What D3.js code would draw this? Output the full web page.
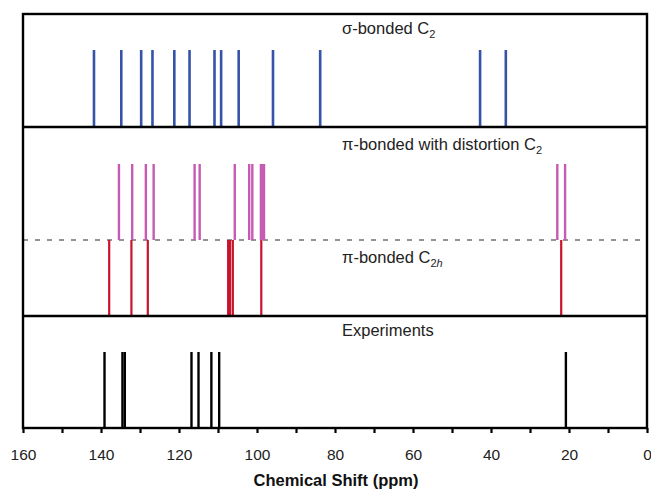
<!DOCTYPE html>
<html>
<head>
<meta charset="utf-8">
<script src="https://cdn.jsdelivr.net/npm/d3@7"></script>
<style>
  body { margin: 0; background: #fff; }
  text { font-family: "Liberation Sans", Arial, sans-serif; }
</style>
</head>
<body>
<div id="chart"></div>
<script>
// Peak positions (ppm).
const sigmaC2 = [141.8, 134.8, 129.7, 126.8, 121.2, 117.3, 110.9, 109.2, 104.7, 95.9, 83.8, 42.8, 36.2];
const piDistortC2 = [135.4, 132.0, 128.5, 126.5, 116.0, 114.7, 105.7, 102.0, 101.2, 99.0, 98.6, 98.2, 23.0, 21.0];
const piC2h = [137.9, 132.2, 128.0, 107.4, 106.9, 106.2, 98.9, 22.0];
const experiments = [139.1, 134.5, 133.9, 116.8, 115.0, 111.7, 109.7, 20.8];
const tickValues = d3.range(0, 161, 10);

const width = 651;
const height = 489;
const margin = { top: 14, right: 4, bottom: 61, left: 23 };

const x = d3.scaleLinear()
  .domain([160, 0])
  .range([margin.left, width - margin.right]);

// Panel rows (y in pixels).
const yTop = 14, ySep1 = 127, yDash = 240, ySep2 = 316, yAxis = 428;

const svg = d3.select("#chart").append("svg")
  .attr("width", width)
  .attr("height", height);

// Series drawn as stick spectra.
const series = [
  { name: "sigma", values: sigmaC2, y0: 50, y1: ySep1, color: "#3553a8", w: 2.6 },
  { name: "pidist", values: piDistortC2, y0: 164, y1: yDash, color: "#c55bb3", w: 2.4 },
  { name: "pic2h", values: piC2h, y0: yDash, y1: ySep2, color: "#c8132b", w: 2.2 },
  { name: "exp", values: experiments, y0: 352, y1: yAxis, color: "#000", w: 2.4 }
];

// Dashed separator in the middle panel.
svg.append("line")
  .attr("x1", x(160)).attr("x2", x(0))
  .attr("y1", yDash).attr("y2", yDash)
  .attr("stroke", "#8f9598")
  .attr("stroke-width", 2)
  .attr("stroke-dasharray", "5,7");

series.forEach((s) => {
  svg.append("g")
    .selectAll("line")
    .data(s.values)
    .join("line")
    .attr("x1", (d) => x(d)).attr("x2", (d) => x(d))
    .attr("y1", s.y0).attr("y2", s.y1)
    .attr("stroke", s.color)
    .attr("stroke-width", s.w);
});

// Frame and panel separators.
svg.append("rect")
  .attr("x", x(160)).attr("y", yTop)
  .attr("width", x(0) - x(160)).attr("height", yAxis - yTop)
  .attr("fill", "none")
  .attr("stroke", "#000")
  .attr("stroke-width", 2.4);

[ySep1, ySep2].forEach((yy) => {
  svg.append("line")
    .attr("x1", x(160)).attr("x2", x(0))
    .attr("y1", yy).attr("y2", yy)
    .attr("stroke", "#000")
    .attr("stroke-width", 2.4);
});

// Panel labels.
const labelX = 342;
const fs = 16.5, sub = 11;
const lab1 = svg.append("text").attr("x", labelX).attr("y", 34).attr("font-size", fs).attr("fill", "#222");
lab1.append("tspan").text("σ-bonded C");
lab1.append("tspan").attr("dy", 4).attr("font-size", sub).text("2");

const lab2 = svg.append("text").attr("x", labelX).attr("y", 150).attr("font-size", fs).attr("fill", "#222");
lab2.append("tspan").text("π-bonded with distortion C");
lab2.append("tspan").attr("dy", 4).attr("font-size", sub).text("2");

const lab3 = svg.append("text").attr("x", labelX).attr("y", 263).attr("font-size", fs).attr("fill", "#222");
lab3.append("tspan").text("π-bonded C");
lab3.append("tspan").attr("dy", 4).attr("font-size", sub).text("2");
lab3.append("tspan").attr("font-size", sub).attr("font-style", "italic").text("h");

svg.append("text").attr("x", labelX).attr("y", 336).attr("font-size", fs).attr("fill", "#222")
  .text("Experiments");

// Bottom axis.
const axis = svg.append("g")
  .attr("transform", `translate(0,${yAxis})`)
  .call(
    d3.axisBottom(x)
      .tickValues(tickValues)
      .tickSize(5)
      .tickPadding(16)
      .tickFormat((d) => (d % 20 === 0 ? d : ""))
  );
axis.select(".domain").remove();
axis.selectAll(".tick line").attr("stroke", "#000").attr("stroke-width", 2.2);
axis.selectAll(".tick text")
  .attr("font-size", 15.5)
  .attr("fill", "#222");

svg.append("text")
  .attr("x", 336).attr("y", 486)
  .attr("text-anchor", "middle")
  .attr("font-size", 16.5)
  .attr("font-weight", "bold")
  .attr("fill", "#111")
  .text("Chemical Shift (ppm)");
</script>
</body>
</html>
